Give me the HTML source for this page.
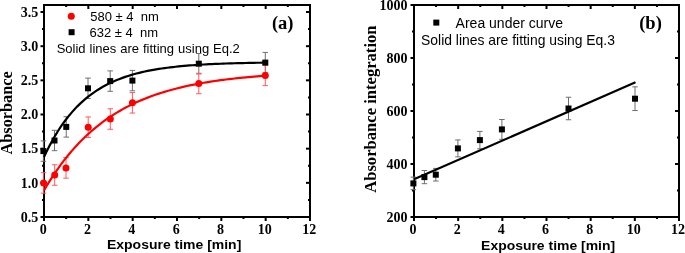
<!DOCTYPE html>
<html><head><meta charset="utf-8"><style>
html,body{margin:0;padding:0;background:#fff;width:685px;height:253px;overflow:hidden}
svg{display:block;will-change:transform}
text{white-space:pre}
</style></head><body>
<svg width="685" height="253" viewBox="0 0 685 253">
<rect width="685" height="253" fill="#fff"/>
<g>
<rect x="44" y="5" width="266" height="212" fill="none" stroke="#000" stroke-width="2"/>
<line x1="44.00" y1="218" x2="44.00" y2="221" stroke="#000" stroke-width="2"/>
<line x1="44.00" y1="6" x2="44.00" y2="9" stroke="#000" stroke-width="2"/>
<line x1="66.17" y1="218" x2="66.17" y2="219" stroke="#000" stroke-width="2"/>
<line x1="66.17" y1="6" x2="66.17" y2="7" stroke="#000" stroke-width="2"/>
<line x1="88.33" y1="218" x2="88.33" y2="221" stroke="#000" stroke-width="2"/>
<line x1="88.33" y1="6" x2="88.33" y2="9" stroke="#000" stroke-width="2"/>
<line x1="110.50" y1="218" x2="110.50" y2="219" stroke="#000" stroke-width="2"/>
<line x1="110.50" y1="6" x2="110.50" y2="7" stroke="#000" stroke-width="2"/>
<line x1="132.67" y1="218" x2="132.67" y2="221" stroke="#000" stroke-width="2"/>
<line x1="132.67" y1="6" x2="132.67" y2="9" stroke="#000" stroke-width="2"/>
<line x1="154.83" y1="218" x2="154.83" y2="219" stroke="#000" stroke-width="2"/>
<line x1="154.83" y1="6" x2="154.83" y2="7" stroke="#000" stroke-width="2"/>
<line x1="177.00" y1="218" x2="177.00" y2="221" stroke="#000" stroke-width="2"/>
<line x1="177.00" y1="6" x2="177.00" y2="9" stroke="#000" stroke-width="2"/>
<line x1="199.17" y1="218" x2="199.17" y2="219" stroke="#000" stroke-width="2"/>
<line x1="199.17" y1="6" x2="199.17" y2="7" stroke="#000" stroke-width="2"/>
<line x1="221.33" y1="218" x2="221.33" y2="221" stroke="#000" stroke-width="2"/>
<line x1="221.33" y1="6" x2="221.33" y2="9" stroke="#000" stroke-width="2"/>
<line x1="243.50" y1="218" x2="243.50" y2="219" stroke="#000" stroke-width="2"/>
<line x1="243.50" y1="6" x2="243.50" y2="7" stroke="#000" stroke-width="2"/>
<line x1="265.67" y1="218" x2="265.67" y2="221" stroke="#000" stroke-width="2"/>
<line x1="265.67" y1="6" x2="265.67" y2="9" stroke="#000" stroke-width="2"/>
<line x1="287.83" y1="218" x2="287.83" y2="219" stroke="#000" stroke-width="2"/>
<line x1="287.83" y1="6" x2="287.83" y2="7" stroke="#000" stroke-width="2"/>
<line x1="310.00" y1="218" x2="310.00" y2="221" stroke="#000" stroke-width="2"/>
<line x1="310.00" y1="6" x2="310.00" y2="9" stroke="#000" stroke-width="2"/>
<line x1="40.5" y1="217.00" x2="43" y2="217.00" stroke="#000" stroke-width="2"/>
<line x1="306" y1="217.00" x2="309" y2="217.00" stroke="#000" stroke-width="2"/>
<line x1="40.5" y1="182.84" x2="43" y2="182.84" stroke="#000" stroke-width="2"/>
<line x1="306" y1="182.84" x2="309" y2="182.84" stroke="#000" stroke-width="2"/>
<line x1="40.5" y1="148.67" x2="43" y2="148.67" stroke="#000" stroke-width="2"/>
<line x1="306" y1="148.67" x2="309" y2="148.67" stroke="#000" stroke-width="2"/>
<line x1="40.5" y1="114.50" x2="43" y2="114.50" stroke="#000" stroke-width="2"/>
<line x1="306" y1="114.50" x2="309" y2="114.50" stroke="#000" stroke-width="2"/>
<line x1="40.5" y1="80.34" x2="43" y2="80.34" stroke="#000" stroke-width="2"/>
<line x1="306" y1="80.34" x2="309" y2="80.34" stroke="#000" stroke-width="2"/>
<line x1="40.5" y1="46.18" x2="43" y2="46.18" stroke="#000" stroke-width="2"/>
<line x1="306" y1="46.18" x2="309" y2="46.18" stroke="#000" stroke-width="2"/>
<line x1="40.5" y1="12.01" x2="43" y2="12.01" stroke="#000" stroke-width="2"/>
<line x1="306" y1="12.01" x2="309" y2="12.01" stroke="#000" stroke-width="2"/>
<line x1="42" y1="199.92" x2="43" y2="199.92" stroke="#000" stroke-width="2"/>
<line x1="308" y1="199.92" x2="309" y2="199.92" stroke="#000" stroke-width="2"/>
<line x1="42" y1="165.75" x2="43" y2="165.75" stroke="#000" stroke-width="2"/>
<line x1="308" y1="165.75" x2="309" y2="165.75" stroke="#000" stroke-width="2"/>
<line x1="42" y1="131.59" x2="43" y2="131.59" stroke="#000" stroke-width="2"/>
<line x1="308" y1="131.59" x2="309" y2="131.59" stroke="#000" stroke-width="2"/>
<line x1="42" y1="97.42" x2="43" y2="97.42" stroke="#000" stroke-width="2"/>
<line x1="308" y1="97.42" x2="309" y2="97.42" stroke="#000" stroke-width="2"/>
<line x1="42" y1="63.26" x2="43" y2="63.26" stroke="#000" stroke-width="2"/>
<line x1="308" y1="63.26" x2="309" y2="63.26" stroke="#000" stroke-width="2"/>
<line x1="42" y1="29.09" x2="43" y2="29.09" stroke="#000" stroke-width="2"/>
<line x1="308" y1="29.09" x2="309" y2="29.09" stroke="#000" stroke-width="2"/>
<text x="38.3" y="221.70" text-anchor="end" style="font-family:'Liberation Serif',serif;font-weight:bold;font-size:14px" >0.5</text>
<text x="38.3" y="187.53" text-anchor="end" style="font-family:'Liberation Serif',serif;font-weight:bold;font-size:14px" >1.0</text>
<text x="38.3" y="153.37" text-anchor="end" style="font-family:'Liberation Serif',serif;font-weight:bold;font-size:14px" >1.5</text>
<text x="38.3" y="119.20" text-anchor="end" style="font-family:'Liberation Serif',serif;font-weight:bold;font-size:14px" >2.0</text>
<text x="38.3" y="85.04" text-anchor="end" style="font-family:'Liberation Serif',serif;font-weight:bold;font-size:14px" >2.5</text>
<text x="38.3" y="50.88" text-anchor="end" style="font-family:'Liberation Serif',serif;font-weight:bold;font-size:14px" >3.0</text>
<text x="38.3" y="16.71" text-anchor="end" style="font-family:'Liberation Serif',serif;font-weight:bold;font-size:14px" >3.5</text>
<text x="43.20" y="233.8" text-anchor="middle" style="font-family:'Liberation Serif',serif;font-weight:bold;font-size:14px" >0</text>
<text x="87.53" y="233.8" text-anchor="middle" style="font-family:'Liberation Serif',serif;font-weight:bold;font-size:14px" >2</text>
<text x="131.87" y="233.8" text-anchor="middle" style="font-family:'Liberation Serif',serif;font-weight:bold;font-size:14px" >4</text>
<text x="176.20" y="233.8" text-anchor="middle" style="font-family:'Liberation Serif',serif;font-weight:bold;font-size:14px" >6</text>
<text x="220.53" y="233.8" text-anchor="middle" style="font-family:'Liberation Serif',serif;font-weight:bold;font-size:14px" >8</text>
<text x="264.87" y="233.8" text-anchor="middle" style="font-family:'Liberation Serif',serif;font-weight:bold;font-size:14px" >10</text>
<text x="309.20" y="233.8" text-anchor="middle" style="font-family:'Liberation Serif',serif;font-weight:bold;font-size:14px" >12</text>
<path d="M43.40,140.90 V161.30 M40.65,140.90 H46.15 M40.65,161.30 H46.15" stroke="#6e6e6e" stroke-width="1" fill="none"/>
<path d="M54.50,130.30 V150.70 M51.75,130.30 H57.25 M51.75,150.70 H57.25" stroke="#6e6e6e" stroke-width="1" fill="none"/>
<path d="M66.25,116.70 V137.10 M63.50,116.70 H69.00 M63.50,137.10 H69.00" stroke="#6e6e6e" stroke-width="1" fill="none"/>
<path d="M88.00,78.10 V98.50 M85.25,78.10 H90.75 M85.25,98.50 H90.75" stroke="#6e6e6e" stroke-width="1" fill="none"/>
<path d="M110.20,70.90 V91.30 M107.45,70.90 H112.95 M107.45,91.30 H112.95" stroke="#6e6e6e" stroke-width="1" fill="none"/>
<path d="M132.40,70.40 V90.80 M129.65,70.40 H135.15 M129.65,90.80 H135.15" stroke="#6e6e6e" stroke-width="1" fill="none"/>
<path d="M198.80,53.50 V73.90 M196.05,53.50 H201.55 M196.05,73.90 H201.55" stroke="#6e6e6e" stroke-width="1" fill="none"/>
<path d="M265.30,52.40 V72.80 M262.55,52.40 H268.05 M262.55,72.80 H268.05" stroke="#6e6e6e" stroke-width="1" fill="none"/>
<path d="M43.60,172.65 V193.15 M40.85,172.65 H46.35 M40.85,193.15 H46.35" stroke="#ff5a5a" stroke-width="1" fill="none"/>
<path d="M54.70,164.75 V185.25 M51.95,164.75 H57.45 M51.95,185.25 H57.45" stroke="#ff5a5a" stroke-width="1" fill="none"/>
<path d="M66.00,157.65 V178.15 M63.25,157.65 H68.75 M63.25,178.15 H68.75" stroke="#ff5a5a" stroke-width="1" fill="none"/>
<path d="M88.20,116.95 V137.45 M85.45,116.95 H90.95 M85.45,137.45 H90.95" stroke="#ff5a5a" stroke-width="1" fill="none"/>
<path d="M110.30,108.75 V129.25 M107.55,108.75 H113.05 M107.55,129.25 H113.05" stroke="#ff5a5a" stroke-width="1" fill="none"/>
<path d="M132.40,92.55 V113.05 M129.65,92.55 H135.15 M129.65,113.05 H135.15" stroke="#ff5a5a" stroke-width="1" fill="none"/>
<path d="M198.80,73.25 V93.75 M196.05,73.25 H201.55 M196.05,93.75 H201.55" stroke="#ff5a5a" stroke-width="1" fill="none"/>
<path d="M265.30,65.15 V85.65 M262.55,65.15 H268.05 M262.55,85.65 H268.05" stroke="#ff5a5a" stroke-width="1" fill="none"/>
<path d="M44.00,190.47 L46.80,185.73 L49.60,181.17 L52.40,176.79 L55.21,172.59 L58.01,168.56 L60.81,164.68 L63.61,160.96 L66.41,157.39 L69.21,153.95 L72.01,150.66 L74.81,147.49 L77.62,144.45 L80.42,141.53 L83.22,138.73 L86.02,136.04 L88.82,133.45 L91.62,130.97 L94.42,128.58 L97.22,126.30 L100.03,124.10 L102.83,121.98 L105.63,119.96 L108.43,118.01 L111.23,116.14 L114.03,114.34 L116.83,112.62 L119.63,110.96 L122.44,109.37 L125.24,107.84 L128.04,106.38 L130.84,104.97 L133.64,103.61 L136.44,102.32 L139.24,101.07 L142.04,99.87 L144.85,98.72 L147.65,97.61 L150.45,96.55 L153.25,95.53 L156.05,94.55 L158.85,93.61 L161.65,92.71 L164.45,91.85 L167.26,91.01 L170.06,90.21 L172.86,89.45 L175.66,88.71 L178.46,88.00 L181.26,87.32 L184.06,86.67 L186.86,86.04 L189.67,85.44 L192.47,84.86 L195.27,84.30 L198.07,83.77 L200.87,83.26 L203.67,82.77 L206.47,82.30 L209.27,81.84 L212.08,81.41 L214.88,80.99 L217.68,80.59 L220.48,80.20 L223.28,79.83 L226.08,79.47 L228.88,79.13 L231.68,78.80 L234.49,78.49 L237.29,78.19 L240.09,77.90 L242.89,77.62 L245.69,77.35 L248.49,77.09 L251.29,76.84 L254.09,76.61 L256.90,76.38 L259.70,76.16 L262.50,75.95 L265.30,75.75" fill="none" stroke="#ff0000" stroke-width="2.2"/>
<path d="M44.00,157.02 L46.80,151.13 L49.60,145.61 L52.40,140.43 L55.21,135.57 L58.01,131.01 L60.81,126.74 L63.61,122.73 L66.41,118.97 L69.21,115.44 L72.01,112.13 L74.81,109.03 L77.62,106.11 L80.42,103.38 L83.22,100.82 L86.02,98.42 L88.82,96.16 L91.62,94.05 L94.42,92.06 L97.22,90.20 L100.03,88.46 L102.83,86.82 L105.63,85.28 L108.43,83.84 L111.23,82.49 L114.03,81.22 L116.83,80.03 L119.63,78.92 L122.44,77.87 L125.24,76.89 L128.04,75.97 L130.84,75.11 L133.64,74.30 L136.44,73.54 L139.24,72.83 L142.04,72.16 L144.85,71.53 L147.65,70.94 L150.45,70.39 L153.25,69.87 L156.05,69.39 L158.85,68.93 L161.65,68.50 L164.45,68.10 L167.26,67.73 L170.06,67.38 L172.86,67.04 L175.66,66.73 L178.46,66.44 L181.26,66.17 L184.06,65.91 L186.86,65.67 L189.67,65.45 L192.47,65.24 L195.27,65.04 L198.07,64.85 L200.87,64.68 L203.67,64.52 L206.47,64.36 L209.27,64.22 L212.08,64.08 L214.88,63.96 L217.68,63.84 L220.48,63.73 L223.28,63.62 L226.08,63.52 L228.88,63.43 L231.68,63.35 L234.49,63.26 L237.29,63.19 L240.09,63.12 L242.89,63.05 L245.69,62.99 L248.49,62.93 L251.29,62.87 L254.09,62.82 L256.90,62.77 L259.70,62.73 L262.50,62.69 L265.30,62.65" fill="none" stroke="#000" stroke-width="2.2"/>
<circle cx="43.6" cy="182.9" r="3.5" fill="#ff0000"/>
<circle cx="54.7" cy="175" r="3.5" fill="#ff0000"/>
<circle cx="66" cy="167.9" r="3.5" fill="#ff0000"/>
<circle cx="88.2" cy="127.2" r="3.5" fill="#ff0000"/>
<circle cx="110.3" cy="119" r="3.5" fill="#ff0000"/>
<circle cx="132.4" cy="102.8" r="3.5" fill="#ff0000"/>
<circle cx="198.8" cy="83.5" r="3.5" fill="#ff0000"/>
<circle cx="265.3" cy="75.4" r="3.5" fill="#ff0000"/>
<rect x="40.4" y="148.1" width="6" height="6" fill="#000"/>
<rect x="51.5" y="137.5" width="6" height="6" fill="#000"/>
<rect x="63.25" y="123.9" width="6" height="6" fill="#000"/>
<rect x="85" y="85.3" width="6" height="6" fill="#000"/>
<rect x="107.2" y="78.1" width="6" height="6" fill="#000"/>
<rect x="129.4" y="77.6" width="6" height="6" fill="#000"/>
<rect x="195.8" y="60.7" width="6" height="6" fill="#000"/>
<rect x="262.3" y="59.6" width="6" height="6" fill="#000"/>
<circle cx="71.3" cy="16.3" r="3.5" fill="#ff0000"/>
<rect x="68.6" y="29.2" width="6" height="6" fill="#000"/>
<text x="90.2" y="20.6" text-anchor="start" style="font-family:'Liberation Sans',sans-serif;font-size:13px;white-space:pre" xml:space="preserve">580 ± 4  nm</text>
<text x="89.5" y="37.0" text-anchor="start" style="font-family:'Liberation Sans',sans-serif;font-size:13px;white-space:pre" xml:space="preserve">632 ± 4  nm</text>
<text x="56.7" y="52.8" text-anchor="start" style="font-family:'Liberation Sans',sans-serif;font-size:13px;word-spacing:0.35px" >Solid lines are fitting using Eq.2</text>
<text x="271.9" y="29.4" text-anchor="start" style="font-family:'Liberation Serif',serif;font-weight:bold;font-size:18.5px" >(a)</text>
<text x="107.0" y="248.8" text-anchor="start" style="font-family:'Liberation Sans',sans-serif;font-weight:bold;font-size:13.3px" textLength="134.3" lengthAdjust="spacingAndGlyphs">Exposure time [min]</text>
<text transform="translate(11.9,154.5) rotate(-90)" style="font-family:'Liberation Serif',serif;font-weight:bold;font-size:16.3px">Absorbance</text>
<rect x="414" y="5" width="265" height="212" fill="none" stroke="#000" stroke-width="2"/>
<line x1="414.00" y1="218" x2="414.00" y2="221" stroke="#000" stroke-width="2"/>
<line x1="414.00" y1="6" x2="414.00" y2="9" stroke="#000" stroke-width="2"/>
<line x1="436.08" y1="218" x2="436.08" y2="219" stroke="#000" stroke-width="2"/>
<line x1="436.08" y1="6" x2="436.08" y2="7" stroke="#000" stroke-width="2"/>
<line x1="458.17" y1="218" x2="458.17" y2="221" stroke="#000" stroke-width="2"/>
<line x1="458.17" y1="6" x2="458.17" y2="9" stroke="#000" stroke-width="2"/>
<line x1="480.25" y1="218" x2="480.25" y2="219" stroke="#000" stroke-width="2"/>
<line x1="480.25" y1="6" x2="480.25" y2="7" stroke="#000" stroke-width="2"/>
<line x1="502.33" y1="218" x2="502.33" y2="221" stroke="#000" stroke-width="2"/>
<line x1="502.33" y1="6" x2="502.33" y2="9" stroke="#000" stroke-width="2"/>
<line x1="524.42" y1="218" x2="524.42" y2="219" stroke="#000" stroke-width="2"/>
<line x1="524.42" y1="6" x2="524.42" y2="7" stroke="#000" stroke-width="2"/>
<line x1="546.50" y1="218" x2="546.50" y2="221" stroke="#000" stroke-width="2"/>
<line x1="546.50" y1="6" x2="546.50" y2="9" stroke="#000" stroke-width="2"/>
<line x1="568.58" y1="218" x2="568.58" y2="219" stroke="#000" stroke-width="2"/>
<line x1="568.58" y1="6" x2="568.58" y2="7" stroke="#000" stroke-width="2"/>
<line x1="590.67" y1="218" x2="590.67" y2="221" stroke="#000" stroke-width="2"/>
<line x1="590.67" y1="6" x2="590.67" y2="9" stroke="#000" stroke-width="2"/>
<line x1="612.75" y1="218" x2="612.75" y2="219" stroke="#000" stroke-width="2"/>
<line x1="612.75" y1="6" x2="612.75" y2="7" stroke="#000" stroke-width="2"/>
<line x1="634.83" y1="218" x2="634.83" y2="221" stroke="#000" stroke-width="2"/>
<line x1="634.83" y1="6" x2="634.83" y2="9" stroke="#000" stroke-width="2"/>
<line x1="656.92" y1="218" x2="656.92" y2="219" stroke="#000" stroke-width="2"/>
<line x1="656.92" y1="6" x2="656.92" y2="7" stroke="#000" stroke-width="2"/>
<line x1="679.00" y1="218" x2="679.00" y2="221" stroke="#000" stroke-width="2"/>
<line x1="679.00" y1="6" x2="679.00" y2="9" stroke="#000" stroke-width="2"/>
<line x1="410.5" y1="217.00" x2="413" y2="217.00" stroke="#000" stroke-width="2"/>
<line x1="675" y1="217.00" x2="678" y2="217.00" stroke="#000" stroke-width="2"/>
<line x1="410.5" y1="164.00" x2="413" y2="164.00" stroke="#000" stroke-width="2"/>
<line x1="675" y1="164.00" x2="678" y2="164.00" stroke="#000" stroke-width="2"/>
<line x1="410.5" y1="111.00" x2="413" y2="111.00" stroke="#000" stroke-width="2"/>
<line x1="675" y1="111.00" x2="678" y2="111.00" stroke="#000" stroke-width="2"/>
<line x1="410.5" y1="58.00" x2="413" y2="58.00" stroke="#000" stroke-width="2"/>
<line x1="675" y1="58.00" x2="678" y2="58.00" stroke="#000" stroke-width="2"/>
<line x1="410.5" y1="5.00" x2="413" y2="5.00" stroke="#000" stroke-width="2"/>
<line x1="675" y1="5.00" x2="678" y2="5.00" stroke="#000" stroke-width="2"/>
<line x1="412" y1="190.50" x2="413" y2="190.50" stroke="#000" stroke-width="2"/>
<line x1="677" y1="190.50" x2="678" y2="190.50" stroke="#000" stroke-width="2"/>
<line x1="412" y1="137.50" x2="413" y2="137.50" stroke="#000" stroke-width="2"/>
<line x1="677" y1="137.50" x2="678" y2="137.50" stroke="#000" stroke-width="2"/>
<line x1="412" y1="84.50" x2="413" y2="84.50" stroke="#000" stroke-width="2"/>
<line x1="677" y1="84.50" x2="678" y2="84.50" stroke="#000" stroke-width="2"/>
<line x1="412" y1="31.50" x2="413" y2="31.50" stroke="#000" stroke-width="2"/>
<line x1="677" y1="31.50" x2="678" y2="31.50" stroke="#000" stroke-width="2"/>
<text x="407.5" y="221.70" text-anchor="end" style="font-family:'Liberation Serif',serif;font-weight:bold;font-size:14px" >200</text>
<text x="407.5" y="168.70" text-anchor="end" style="font-family:'Liberation Serif',serif;font-weight:bold;font-size:14px" >400</text>
<text x="407.5" y="115.70" text-anchor="end" style="font-family:'Liberation Serif',serif;font-weight:bold;font-size:14px" >600</text>
<text x="407.5" y="62.70" text-anchor="end" style="font-family:'Liberation Serif',serif;font-weight:bold;font-size:14px" >800</text>
<text x="407.5" y="9.70" text-anchor="end" style="font-family:'Liberation Serif',serif;font-weight:bold;font-size:14px" >1000</text>
<text x="413.00" y="234.2" text-anchor="middle" style="font-family:'Liberation Serif',serif;font-weight:bold;font-size:14px" >0</text>
<text x="457.17" y="234.2" text-anchor="middle" style="font-family:'Liberation Serif',serif;font-weight:bold;font-size:14px" >2</text>
<text x="501.33" y="234.2" text-anchor="middle" style="font-family:'Liberation Serif',serif;font-weight:bold;font-size:14px" >4</text>
<text x="545.50" y="234.2" text-anchor="middle" style="font-family:'Liberation Serif',serif;font-weight:bold;font-size:14px" >6</text>
<text x="589.67" y="234.2" text-anchor="middle" style="font-family:'Liberation Serif',serif;font-weight:bold;font-size:14px" >8</text>
<text x="633.83" y="234.2" text-anchor="middle" style="font-family:'Liberation Serif',serif;font-weight:bold;font-size:14px" >10</text>
<text x="678.00" y="234.2" text-anchor="middle" style="font-family:'Liberation Serif',serif;font-weight:bold;font-size:14px" >12</text>
<path d="M413.40,177.10 V189.70 M410.65,177.10 H416.15 M410.65,189.70 H416.15" stroke="#6e6e6e" stroke-width="1" fill="none"/>
<path d="M424.40,170.50 V183.70 M421.65,170.50 H427.15 M421.65,183.70 H427.15" stroke="#6e6e6e" stroke-width="1" fill="none"/>
<path d="M435.80,168.40 V181.00 M433.05,168.40 H438.55 M433.05,181.00 H438.55" stroke="#6e6e6e" stroke-width="1" fill="none"/>
<path d="M457.90,139.95 V156.85 M455.15,139.95 H460.65 M455.15,156.85 H460.65" stroke="#6e6e6e" stroke-width="1" fill="none"/>
<path d="M479.90,131.40 V148.80 M477.15,131.40 H482.65 M477.15,148.80 H482.65" stroke="#6e6e6e" stroke-width="1" fill="none"/>
<path d="M501.90,119.50 V139.30 M499.15,119.50 H504.65 M499.15,139.30 H504.65" stroke="#6e6e6e" stroke-width="1" fill="none"/>
<path d="M568.50,97.25 V119.75 M565.75,97.25 H571.25 M565.75,119.75 H571.25" stroke="#6e6e6e" stroke-width="1" fill="none"/>
<path d="M635.00,86.85 V110.55 M632.25,86.85 H637.75 M632.25,110.55 H637.75" stroke="#6e6e6e" stroke-width="1" fill="none"/>
<line x1="414" y1="179.3" x2="635.5" y2="82.3" stroke="#000" stroke-width="2.2"/>
<rect x="410.4" y="180.4" width="6" height="6" fill="#000"/>
<rect x="421.4" y="174.1" width="6" height="6" fill="#000"/>
<rect x="432.8" y="171.7" width="6" height="6" fill="#000"/>
<rect x="454.9" y="145.4" width="6" height="6" fill="#000"/>
<rect x="476.9" y="137.1" width="6" height="6" fill="#000"/>
<rect x="498.9" y="126.4" width="6" height="6" fill="#000"/>
<rect x="565.5" y="105.5" width="6" height="6" fill="#000"/>
<rect x="632" y="95.7" width="6" height="6" fill="#000"/>
<rect x="433.3" y="19.6" width="6" height="6" fill="#000"/>
<text x="455.6" y="27.6" text-anchor="start" style="font-family:'Liberation Sans',sans-serif;font-size:14px" >Area under curve</text>
<text x="421.1" y="44.9" text-anchor="start" style="font-family:'Liberation Sans',sans-serif;font-size:13.9px" >Solid lines are fitting using Eq.3</text>
<text x="639.2" y="29.3" text-anchor="start" style="font-family:'Liberation Serif',serif;font-weight:bold;font-size:18.5px" >(b)</text>
<text x="481.1" y="249.8" text-anchor="start" style="font-family:'Liberation Sans',sans-serif;font-weight:bold;font-size:13.6px" textLength="134.0" lengthAdjust="spacingAndGlyphs">Exposure time [min]</text>
<text transform="translate(375.5,192.8) rotate(-90)" style="font-family:'Liberation Serif',serif;font-weight:bold;font-size:16.6px">Absorbance integration</text>
</g>
</svg>
</body></html>
